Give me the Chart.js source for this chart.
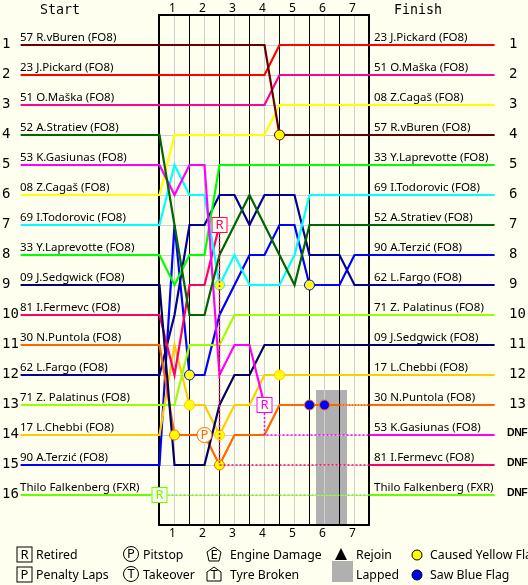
<!DOCTYPE html>
<html>
<head>
<meta charset="utf-8">
<title>Race chart</title>
<script src="https://cdn.jsdelivr.net/npm/chart.js@4/dist/chart.umd.min.js"></script>
<style>
  html, body { margin: 0; padding: 0; background: #fffff0; overflow: hidden; }
  canvas { display: block; }
</style>
</head>
<body>
<canvas id="raceChart" width="528" height="585"></canvas>
<script>
// half-lap steps on the x axis, 0 is the start line
const lapSteps = [0, 0.5, 1, 1.5, 2, 2.5, 3, 3.5, 4, 4.5, 5, 5.5, 6, 6.5, 7];
const lapLabels = ['1', '2', '3', '4', '5', '6', '7'];
const rowNumbers = ['1','2','3','4','5','6','7','8','9','10','11','12','13','14','15','16'];
const finishMarks = ['1','2','3','4','5','6','7','8','9','10','11','12','13','DNF','DNF','DNF'];

const startNames = [
  '57 R.vBuren (FO8)', '23 J.Pickard (FO8)', '51 O.Maška (FO8)', '52 A.Stratiev (FO8)',
  '53 K.Gasiunas (FO8)', '08 Z.Cagaš (FO8)', '69 I.Todorovic (FO8)', '33 Y.Laprevotte (FO8)',
  '09 J.Sedgwick (FO8)', '81 I.Fermevc (FO8)', '30 N.Puntola (FO8)', '62 L.Fargo (FO8)',
  '71 Z. Palatinus (FO8)', '17 L.Chebbi (FO8)', '90 A.Terzić (FO8)', 'Thilo Falkenberg (FXR)'
];
const finishNames = [
  '23 J.Pickard (FO8)', '51 O.Maška (FO8)', '08 Z.Cagaš (FO8)', '57 R.vBuren (FO8)',
  '33 Y.Laprevotte (FO8)', '69 I.Todorovic (FO8)', '52 A.Stratiev (FO8)', '90 A.Terzić (FO8)',
  '62 L.Fargo (FO8)', '71 Z. Palatinus (FO8)', '09 J.Sedgwick (FO8)', '17 L.Chebbi (FO8)',
  '30 N.Puntola (FO8)', '53 K.Gasiunas (FO8)', '81 I.Fermevc (FO8)', 'Thilo Falkenberg (FXR)'
];

// race position at each half lap
const vBuren     = [1, 1, 1, 1, 1, 1, 1, 1, 4, 4, 4, 4, 4, 4, 4];
const pickard    = [2, 2, 2, 2, 2, 2, 2, 2, 1, 1, 1, 1, 1, 1, 1];
const maska      = [3, 3, 3, 3, 3, 3, 3, 3, 2, 2, 2, 2, 2, 2, 2];
const stratiev   = [4, 7, 10, 10, 8, 7, 6, 7, 8, 9, 7, 7, 7, 7, 7];
const gasiunas   = [5, 6, 5, 5, 12, 11, 11, 13];
const cagas      = [6, 4, 4, 4, 4, 4, 4, 4, 3, 3, 3, 3, 3, 3, 3];
const todorovic  = [7, 5, 6, 6, 9, 8, 9, 9, 9, 8, 6, 6, 6, 6, 6];
const laprevotte = [8, 9, 8, 8, 5, 5, 5, 5, 5, 5, 5, 5, 5, 5, 5];
const sedgwick   = [9, 15, 15, 15, 13, 12, 12, 11, 11, 11, 11, 11, 11, 11, 11];
const fermevc    = [10, 12, 9, 9, 7];
const puntola    = [11, 14, 14, 14, 15, 14, 14, 14, 13, 13, 13, 13, 13];
const fargo      = [12, 10, 7, 7, 6, 6, 7, 6, 6, 6, 8, 8, 8, 9, 9];
const palatinus  = [13, 13, 11, 11, 11, 10, 10, 10, 10, 10, 10, 10, 10, 10, 10];
const chebbi     = [14, 11, 13, 13, 14, 13, 13, 12, 12, 12, 12, 12, 12, 12, 12];
const terzic     = [15, 7, 12, 12, 10, 9, 8, 8, 7, 7, 9, 9, 9, 8, 8];
const falkenberg = [16];

const tracks = [vBuren, pickard, maska, stratiev, gasiunas, cagas, todorovic, laprevotte,
  sedgwick, fermevc, puntola, fargo, palatinus, chebbi, terzic, falkenberg];
const colors = ['#660000', '#ff0000', '#ff0099', '#006600', '#ff00ff', '#ffff00', '#00ffff', '#00ff00',
  '#000066', '#ff0066', '#ff6600', '#000099', '#99ff00', '#ffcc00', '#0000ff', '#66ff00'];

// incidents: driver is an index into tracks
const yellowLaps = [4, 2, 1, 1, 0.5, 2, 2, 4, 5];
const yellowDrivers = [0, 6, 14, 13, 10, 13, 10, 13, 14];
const blueLaps = [5, 5.5];
const blueDrivers = [10, 10];
const pitLaps = [1.5];
const pitDrivers = [10];
const retiredDrivers = [4, 9, 15];
const lappedFrom = 5.22, lappedTo = 6.25, lappedTop = 12.5;

const BG = '#fffff0';
const firstRow = 1;
const plotTop = 0, plotBottom = 17;
const stubLeft = -4.63, stubRight = 11.17;

function rowAt(track, lap) {
  return track[lapSteps.indexOf(lap)];
}

function lineSet(points, color, width, dash) {
  return {
    data: points,
    showLine: true,
    borderColor: color,
    borderWidth: width,
    borderDash: dash,
    pointRadius: 0,
    tension: 0,
    order: dash.length ? 1 : 3
  };
}

function markerSet(laps, drivers, fill, radius) {
  return {
    data: laps.map((lap, i) => ({ x: lap, y: rowAt(tracks[drivers[i]], lap) })),
    showLine: false,
    pointRadius: radius,
    pointBackgroundColor: fill,
    pointBorderColor: drivers.map(d => colors[d]),
    pointBorderWidth: 1,
    order: 2
  };
}

const datasets = [];
// first row on top, the chart draws the first dataset last
tracks.forEach((track, d) => {
  const start = { x: stubLeft, y: track[0] };
  const path = track.map((row, i) => ({ x: lapSteps[i], y: row }));
  const finishRow = finishNames.indexOf(startNames[d]) + 1;
  const last = path[path.length - 1];
  if (track.length === lapSteps.length) {
    datasets.push(lineSet([start, ...path, { x: stubRight, y: finishRow }], colors[d], 2.2, []));
  } else {
    // retired cars trail off as fine dots, a lapped car as a heavier broken line
    datasets.push(lineSet([start, ...path], colors[d], 2.2, []));
    const tail = last.y === finishRow
      ? [last, { x: 7, y: finishRow }]
      : [last, { x: last.x, y: finishRow }, { x: 7, y: finishRow }];
    if (retiredDrivers.includes(d)) {
      datasets.push(lineSet(tail, colors[d], 1.5, [2, 2]));
    } else {
      datasets.push(lineSet(tail, colors[d], 2, [2, 1]));
    }
    datasets.push(lineSet([{ x: 7, y: finishRow }, { x: stubRight, y: finishRow }], colors[d], 2.2, []));
  }
});
datasets.push(markerSet(yellowLaps, yellowDrivers, '#ffff00', 5));
datasets.push(markerSet(blueLaps, blueDrivers, '#0000ff', 5));
datasets.push(markerSet(pitLaps, pitDrivers, BG, 7.5));

const textFont = '11.5px "Noto Sans"';
const keyFont = '12.3px "Noto Sans"';
const numberFont = '14px "DejaVu Sans Mono"';
const titleFont = '13.3px "DejaVu Sans Mono"';

function boxed(ctx, cx, cy, w, h, color, letter) {
  ctx.fillStyle = BG;
  ctx.fillRect(cx - w / 2, cy - h / 2, w, h);
  ctx.strokeStyle = color;
  ctx.lineWidth = 1;
  ctx.strokeRect(cx - w / 2 + 0.5, cy - h / 2 + 0.5, w - 1, h - 1);
  letterAt(ctx, cx, cy, color, letter);
}

function letterAt(ctx, cx, cy, color, letter) {
  ctx.fillStyle = color;
  ctx.font = '13px "Noto Sans"';
  ctx.textAlign = 'center';
  ctx.textBaseline = 'middle';
  ctx.fillText(letter, cx, cy + 0.5);
  ctx.textAlign = 'left';
  ctx.textBaseline = 'alphabetic';
}

function polyOutline(ctx, pts) {
  ctx.beginPath();
  pts.forEach((p, i) => i ? ctx.lineTo(p[0], p[1]) : ctx.moveTo(p[0], p[1]));
  ctx.closePath();
}

const backdrop = {
  id: 'backdrop',
  beforeDatasetsDraw(chart) {
    const { ctx, scales: { x, y } } = chart;
    const top = y.getPixelForValue(plotTop), bottom = y.getPixelForValue(plotBottom);
    const left = Math.floor(x.getPixelForValue(0)), right = Math.floor(x.getPixelForValue(7));
    ctx.save();
    // lapped block sits under the grid
    ctx.fillStyle = '#b0b0b0';
    const lx = x.getPixelForValue(lappedFrom), lr = x.getPixelForValue(lappedTo);
    const ly = y.getPixelForValue(lappedTop);
    ctx.fillRect(Math.round(lx), ly, Math.round(lr - lx), bottom - ly);

    ctx.lineWidth = 1;
    ctx.strokeStyle = '#d0d0d0';
    ctx.beginPath();
    rowNumbers.forEach((n, i) => {
      const py = y.getPixelForValue(i + 1) + 0.5;
      ctx.moveTo(left, py);
      ctx.lineTo(right, py);
    });
    lapLabels.forEach((l, i) => {
      const px = Math.floor(x.getPixelForValue(i + 0.5)) + 0.5;
      ctx.moveTo(px, top);
      ctx.lineTo(px, bottom);
    });
    ctx.stroke();

    ctx.strokeStyle = '#000';
    ctx.beginPath();
    for (let lap = 1; lap < 7; lap++) {
      const px = Math.floor(x.getPixelForValue(lap)) + 0.5;
      ctx.moveTo(px, top);
      ctx.lineTo(px, bottom);
    }
    ctx.stroke();
    ctx.lineWidth = 2;
    ctx.strokeRect(left, top, right - left, bottom - top);
    ctx.restore();
  },
  afterDatasetsDraw(chart) {
    const { ctx, scales: { x, y } } = chart;
    ctx.save();
    ctx.textAlign = 'left';
    ctx.textBaseline = 'alphabetic';

    // pit stop letter and retirement boxes
    pitLaps.forEach((lap, i) => {
      letterAt(ctx, x.getPixelForValue(lap), y.getPixelForValue(rowAt(tracks[pitDrivers[i]], lap)), colors[pitDrivers[i]], 'P');
    });
    retiredDrivers.forEach(d => {
      const track = tracks[d];
      const lap = lapSteps[track.length - 1];
      boxed(ctx, x.getPixelForValue(lap), y.getPixelForValue(track[track.length - 1]), 16, 16, colors[d], 'R');
    });

    // names sit just above each row's line
    ctx.fillStyle = '#000';
    rowNumbers.forEach((n, i) => {
      const py = y.getPixelForValue(i + 1);
      ctx.font = textFont;
      ctx.fillText(startNames[i], 20, py - 4);
      ctx.fillText(finishNames[i], 374, py - 4);
      ctx.font = numberFont;
      ctx.fillText(n, 2, py + 3);
      if (finishMarks[i] === 'DNF') {
        ctx.font = 'bold 10.5px "Liberation Sans"';
        ctx.letterSpacing = '-0.4px';
        ctx.fillText('DNF', 507, py + 1);
        ctx.letterSpacing = '0px';
      } else {
        ctx.fillText(finishMarks[i], 509, py + 3);
      }
    });
    ctx.font = titleFont;
    ctx.fillText('Start', 40, 14);
    ctx.fillText('Finish', 394, 14);
    ctx.font = '12px "Noto Sans"';
    lapLabels.forEach((l, i) => {
      const px = x.getPixelForValue(i + 0.5);
      ctx.fillText(l, px - 5.5, 12);
      ctx.fillText(l, px - 5.5, 537);
    });

    // key along the bottom
    boxed(ctx, 24.5, 554.5, 16, 16, '#000', 'R');
    boxed(ctx, 24.5, 574.5, 16, 16, '#000', 'P');
    ctx.font = keyFont;
    ctx.fillStyle = '#000';
    ctx.fillText('Retired', 36, 559);
    ctx.fillText('Penalty Laps', 36, 579);

    [[131, 554, 'P', 'Pitstop'], [131, 574, 'T', 'Takeover']].forEach(([cx, cy, letter, label]) => {
      ctx.strokeStyle = '#000';
      ctx.lineWidth = 1;
      ctx.beginPath();
      ctx.arc(cx, cy, 7.5, 0, Math.PI * 2);
      ctx.stroke();
      letterAt(ctx, cx, cy, '#000', letter);
      ctx.font = keyFont;
      ctx.fillStyle = '#000';
      ctx.fillText(label, 143, cy + 5);
    });

    polyOutline(ctx, [[214, 547], [221, 552], [219, 561], [209, 561], [207, 552]]);
    ctx.stroke();
    letterAt(ctx, 214, 555, '#000', 'E');
    polyOutline(ctx, [[214, 567], [221, 572], [221, 581], [207, 581], [207, 572]]);
    ctx.stroke();
    letterAt(ctx, 214, 575, '#000', 'T');
    ctx.font = keyFont;
    ctx.fillStyle = '#000';
    ctx.fillText('Engine Damage', 230, 559);
    ctx.fillText('Tyre Broken', 230, 579);

    polyOutline(ctx, [[341, 548], [347, 560], [335, 560]]);
    ctx.fill();
    ctx.fillStyle = '#b0b0b0';
    ctx.fillRect(332, 561, 21, 21);
    ctx.fillStyle = '#000';
    ctx.fillText('Rejoin', 356, 559);
    ctx.fillText('Lapped', 356, 579);

    [[555, '#ffff00', 'Caused Yellow Flag'], [575, '#0000ff', 'Saw Blue Flag']].forEach(([cy, fill, label]) => {
      ctx.beginPath();
      ctx.arc(417, cy, 5, 0, Math.PI * 2);
      ctx.fillStyle = fill;
      ctx.fill();
      ctx.strokeStyle = '#000';
      ctx.lineWidth = 1;
      ctx.stroke();
      ctx.fillStyle = '#000';
      ctx.fillText(label, 430, cy + 4);
    });
    ctx.restore();
  }
};

const pxPerLap = 30, pxPerRow = 30, zeroX = 159.5, firstRowY = 45;

new Chart('raceChart', {
  type: 'scatter',
  data: { datasets },
  options: {
    responsive: false,
    animation: false,
    clip: false,
    layout: { padding: 0, autoPadding: false },
    plugins: { legend: { display: false }, tooltip: { enabled: false } },
    scales: {
      x: { type: 'linear', display: false, min: -zeroX / pxPerLap, max: (528 - zeroX) / pxPerLap },
      y: { type: 'linear', display: false, reverse: true, min: firstRow - firstRowY / pxPerRow, max: firstRow + (585 - firstRowY) / pxPerRow }
    }
  },
  plugins: [backdrop]
});
</script>
</body>
</html>
